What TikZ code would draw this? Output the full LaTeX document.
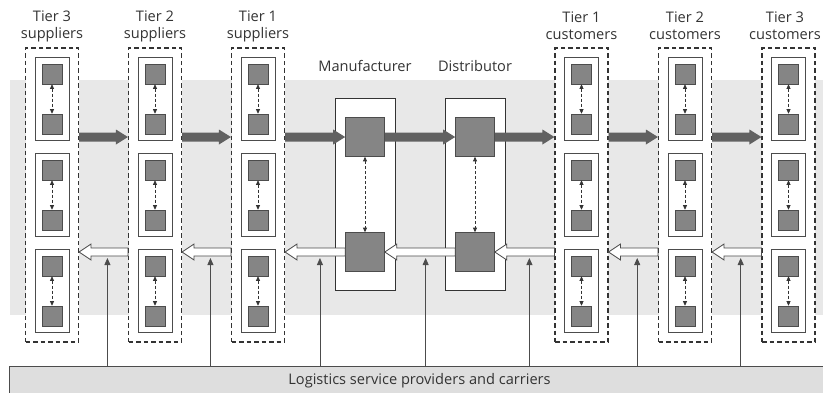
\documentclass[tikz,border=0pt]{standalone}
\usepackage{fontspec}
\setmainfont{Open Sans}
\usetikzlibrary{calc}
\usetikzlibrary{arrows.meta}

\begin{document}
\begin{tikzpicture}[x=1pt, y=-1pt,
    every node/.style={font=\fontsize{14.6}{17}\selectfont, text=black!80},
    tierbox/.style={draw=black!80, dash pattern=on 4.5pt off 3pt, line width=1.1pt,
        fill=white, minimum width=53pt, minimum height=294pt, inner sep=0pt},
    unitbox/.style={draw=black!70, line width=0.8pt, fill=white,
        minimum width=34pt, minimum height=83pt, inner sep=0pt},
    firm/.style={draw=black!70, line width=0.6pt, fill=black!48, minimum size=20pt, inner sep=0pt},
    bigfirm/.style={firm, minimum size=39pt},
    plantbox/.style={draw=black!80, line width=0.9pt, fill=white,
        minimum width=60pt, minimum height=192pt, inner sep=0pt},
    link/.style={black!80, line width=0.7pt, dash pattern=on 3pt off 2pt,
        {Triangle[length=4.5pt,width=4pt]}-{Triangle[length=4.5pt,width=4pt]}},
    % solid product flow, drawn as a fat arrow pointing right
    flowarrow/.style={fill=black!62, draw=none, to path={
        let \p1=(\tikztostart), \p2=(\tikztotarget) in
        (\x1,\y1+4.5pt) -- (\x2-12pt,\y1+4.5pt) -- (\x2-12pt,\y1+7.5pt) -- (\x2,\y1)
        -- (\x2-12pt,\y1-7.5pt) -- (\x2-12pt,\y1-4.5pt) -- (\x1,\y1-4.5pt) -- cycle}},
    % hollow return flow, pointing left
    returnarrow/.style={draw=black!70, line width=0.8pt, fill=white, to path={
        let \p1=(\tikztostart), \p2=(\tikztotarget) in
        (\x1,\y1+4pt) -- (\x2+12pt,\y1+4pt) -- (\x2+12pt,\y1+8pt) -- (\x2,\y1)
        -- (\x2+12pt,\y1-8pt) -- (\x2+12pt,\y1-4pt) -- (\x1,\y1-4pt) -- cycle}},
    service/.style={black!70, line width=0.8pt, -{Triangle[length=7pt,width=6pt]}}
]
\useasboundingbox (0,0) rectangle (823,392);

% --- BACKGROUND BAND ---
\fill[black!9] (10,80) rectangle (823,315);

% --- TIER COLUMNS (suppliers left, customers right) ---
\foreach \name/\x/\lx/\txt in {S3/52/52/{Tier 3\\suppliers}, S2/155/155/{Tier 2\\suppliers},
        S1/258/258/{Tier 1\\suppliers}, C1/581.5/581.5/{Tier 1\\customers},
        C2/685/685/{Tier 2\\customers}, C3/788.5/785/{Tier 3\\customers}} {
    \node[align=center] (\name t) at (\lx,26) {\txt};
    \node[tierbox] (\name) at (\x,195) {};
    \foreach \k/\y in {1/99, 2/195, 3/291} {
        \node[unitbox] (\name u\k) at (\x,\y) {};
        \node[firm] (\name a\k) at (\x,\y-25) {};
        \node[firm] (\name b\k) at (\x,\y+25) {};
        \draw[link] (\name a\k) -- (\name b\k);
    }
}

% --- MANUFACTURER AND DISTRIBUTOR ---
\node (Mt) at (365,66) {Manufacturer};
\node[plantbox] (M) at (365,194) {};
\node[bigfirm] (Mtop) at (365,137) {};
\node[bigfirm] (Mbot) at (365,252) {};
\draw[link] (Mtop) -- (Mbot);

\node (Dt) at (475,66) {Distributor};
\node[plantbox] (D) at (475,194) {};
\node[bigfirm] (Dtop) at (475,137) {};
\node[bigfirm] (Dbot) at (475,252) {};
\draw[link] (Dtop) -- (Dbot);

% --- FORWARD FLOW ---
\draw[flowarrow] (S3.east |- Mtop) to (S2.west |- Mtop);
\draw[flowarrow] (S2.east |- Mtop) to (S1.west |- Mtop);
\draw[flowarrow] (S1.east |- Mtop) to (Mtop.west);
\draw[flowarrow] (Mtop.east) to (Dtop.west);
\draw[flowarrow] (Dtop.east) to (C1.west |- Dtop);
\draw[flowarrow] (C1.east |- Dtop) to (C2.west |- Dtop);
\draw[flowarrow] (C2.east |- Dtop) to (C3.west |- Dtop);

% --- CARRIERS ---
\node[draw=black!70, line width=0.8pt, fill=black!13, minimum width=821pt,
    minimum height=30pt, inner sep=0pt] (bar) at (419.5,381)
    {Logistics service providers and carriers};

% --- RETURN FLOW, fed from the carriers ---
\foreach \tail/\tip [count=\i] in {S2.west/S3.east, S1.west/S2.east,
        Mbot.west/S1.east, Dbot.west/Mbot.east, C1.west/Dbot.east,
        C2.west/C1.east, C3.west/C2.east} {
    \draw[returnarrow] (\tail |- Mbot) to (\tip |- Mbot);
    \path (\tail |- Mbot) -- coordinate[pos=0.42, yshift=-6pt] (svc\i) (\tip |- Mbot);
    \draw[service] (bar.north -| svc\i) -- (svc\i);
}

\end{tikzpicture}
\end{document}
